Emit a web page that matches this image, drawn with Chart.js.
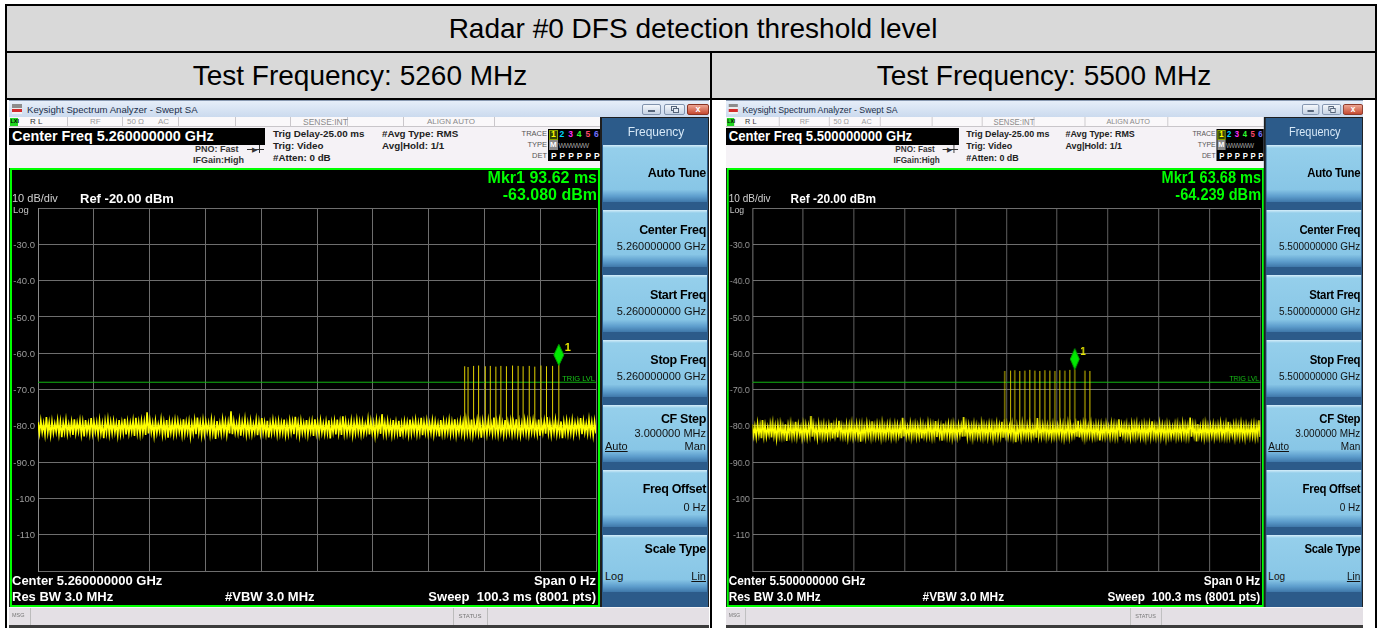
<!DOCTYPE html>
<html><head><meta charset="utf-8">
<script src="https://cdn.jsdelivr.net/npm/chart.js@4.4.1/dist/chart.umd.min.js"></script>
<style>
body{margin:0;width:1380px;height:628px;overflow:hidden;background:#fff;position:relative;font-family:"Liberation Sans",Arial,sans-serif}
.t{position:absolute;white-space:nowrap;line-height:1}
.r{position:absolute}
.scr{position:absolute;top:100px;width:700px;height:528px;background:#1c1c1c;overflow:hidden}
</style></head><body>
<div id="page"></div>
<script>
// ---------------- data ----------------
const TITLE = 'Radar #0 DFS detection threshold level';
const CELL_TITLES = ['Test Frequency: 5260 MHz', 'Test Frequency: 5500 MHz'];
const CENTER_FREQ = ['5.260000000 GHz', '5.500000000 GHz'];
const SWEEP_MS = 100.3;
const Y_TICK_VALUES = [-30, -40, -50, -60, -70, -80, -90, -100, -110];
const Y_TICK_LABELS = ['-30.0', '-40.0', '-50.0', '-60.0', '-70.0', '-80.0', '-90.0', '-100', '-110'];
const TRIG_LEVEL = [-68.0, -68.0];
const MARKER_TIME = [93.62, 63.68];
const MARKER_LEVEL = [-63.080, -64.239];
const PULSE_BASE = [-80.5, -81.0];
const PULSE_TIMES_5260 = [76.7, 77.3, 78.3, 79.2, 80.4, 81.3, 82.3, 83.2, 84.2, 85.3, 86.3, 87.2, 88.3, 89.3, 90.4, 91.4, 92.5, 93.62];
const PULSE_TOPS_5260 = [-63.6, -63.8, -63.5, -63.4, -63.6, -63.5, -63.7, -63.5, -63.6, -63.4, -63.5, -63.6, -63.5, -63.7, -63.4, -63.6, -63.5, -63.08];
const PULSE_TIMES_5500 = [49.85, 50.98, 51.83, 52.82, 53.81, 54.80, 55.79, 56.78, 57.77, 58.76, 59.75, 60.73, 61.72, 62.71, 63.68, 65.68, 66.67];
const PULSE_TOPS_5500 = [-64.9, -64.8, -64.7, -64.9, -64.8, -64.6, -64.8, -64.9, -64.7, -64.8, -64.9, -64.7, -64.8, -64.6, -64.239, -64.8, -64.9];
const NOISE_5260 = [
-79.0,-82.1,-78.6,-81.8,-79.3,-82.4,-77.6,-81.9,-79.1,-82.6,
-78.8,-82.0,-79.4,-81.7,-78.5,-82.3,-78.9,-83.1,-79.2,-81.8,
-78.4,-82.2,-79.5,-81.9,-78.9,-82.5,-78.2,-82.0,-79.2,-81.6,
-78.6,-82.4,-79.0,-82.9,-78.4,-81.8,-79.3,-82.2,-77.9,-82.0,
-78.9,-81.7,-79.1,-82.5,-78.5,-82.1,-79.4,-83.4,-78.8,-81.9,
-78.3,-82.3,-79.0,-82.0,-78.7,-81.8,-79.3,-82.6,-78.4,-82.2,
-79.1,-81.9,-78.1,-82.4,-78.9,-82.1,-79.2,-81.7,-78.6,-82.8,
-77.8,-82.0,-79.0,-82.3,-78.6,-81.9,-78.8,-82.5,-76.3,-82.1,
-78.5,-81.8,-79.2,-82.7,-78.7,-82.0,-79.5,-81.6,-78.3,-82.4,
-79.0,-82.2,-78.4,-83.3,-78.9,-81.9,-79.1,-82.3,-78.6,-82.0,
-78.7,-81.7,-79.3,-82.5,-78.2,-82.1,-79.0,-81.8,-78.8,-82.9,
-79.4,-82.0,-78.5,-82.3,-77.7,-81.9,-79.1,-82.6,-78.6,-82.2,
-78.9,-81.6,-79.2,-82.4,-78.4,-82.0,-79.0,-83.6,-78.7,-81.9,
-79.3,-82.2,-78.3,-81.8,-78.9,-82.5,-79.1,-82.1,-76.0,-82.3,
-78.8,-81.9,-79.4,-82.0,-78.5,-82.7,-79.0,-81.7,-78.2,-82.4,
-79.2,-82.1,-78.7,-82.3,-79.5,-81.8,-78.4,-82.6,-78.9,-82.0,
-77.9,-81.9,-79.1,-82.2,-78.6,-83.2,-79.3,-82.0,-78.5,-81.7,
-79.0,-82.4,-78.8,-82.1,-79.2,-81.9,-78.3,-82.5,-79.4,-82.2,
-78.6,-81.8,-78.9,-82.3,-77.5,-82.0,-79.1,-82.6,-78.7,-81.9,
-79.3,-82.1,-78.4,-82.4,-79.0,-81.7,-78.8,-82.8,-78.2,-82.0,
-79.1,-82.3,-78.6,-81.9,-79.4,-82.2,-78.9,-82.0,-78.5,-83.5,
-79.2,-81.8,-78.7,-82.4,-78.3,-82.1,-79.0,-82.5,-77.4,-82.0,
-78.8,-82.2,-79.3,-81.9,-78.6,-82.6,-79.1,-82.0,-78.4,-81.8,
-79.0,-82.3,-78.9,-82.1,-79.5,-81.7,-78.2,-82.4,-78.8,-82.0,
-79.2,-82.7,-78.5,-81.9,-78.9,-82.2,-76.8,-82.0,-79.1,-82.3,
-78.7,-81.8,-79.3,-82.5,-78.4,-82.1,-79.0,-82.0,-78.6,-83.0,
-79.4,-82.2,-78.8,-81.9,-79.1,-82.4,-78.3,-82.1,-78.9,-81.7,
-78.5,-82.3,-79.2,-82.0,-77.8,-82.6,-79.0,-81.9,-78.7,-82.2,
-79.3,-82.0,-78.6,-82.4,-78.9,-81.8,-79.4,-82.9,-78.4,-82.1,
-78.8,-82.2,-79.1,-81.9,-78.5,-82.3,-79.0,-82.0,-78.2,-82.5,
-79.2,-81.8,-78.7,-82.1,-79.0,-82.4,-78.4,-82.0,-78.9,-82.2,
-78.3,-82.6,-79.3,-81.9,-78.6,-82.1,-79.1,-83.3,-78.8,-82.0,
-79.0,-82.3,-78.5,-81.7,-79.4,-82.2,-77.7,-82.0,-78.9,-82.4,
-78.6,-81.9,-79.2,-82.5,-78.4,-82.1,-79.0,-81.8,-78.7,-82.3,
-79.1,-82.0,-78.2,-82.2,-78.9,-82.6,-79.3,-81.9,-78.5,-82.1,
-78.8,-82.4,-79.0,-81.8,-78.6,-82.0,-79.4,-82.3,-78.3,-82.7,
-79.2,-81.9,-78.7,-82.2,-77.6,-82.0,-79.1,-82.5,-78.9,-81.8,
-78.4,-82.3,-79.3,-82.1,-78.8,-83.4,-79.0,-81.9,-78.6,-82.2,
-79.1,-82.0,-78.5,-82.4,-79.2,-81.7,-78.9,-82.1,-77.9,-82.3,
-78.7,-81.9,-79.4,-82.2,-78.3,-82.0,-79.0,-82.6,-78.8,-82.1];
const NOISE_5500 = [
-79.6,-82.8,-80.1,-83.1,-79.3,-82.6,-79.9,-83.4,-78.4,-82.9,
-79.8,-83.0,-80.3,-82.5,-79.5,-83.2,-79.2,-82.8,-80.0,-83.6,
-79.7,-82.7,-79.4,-83.0,-80.2,-82.9,-79.6,-84.2,-79.9,-82.6,
-79.3,-83.1,-80.1,-82.8,-78.9,-83.0,-79.7,-82.5,-80.3,-83.3,
-79.5,-82.9,-79.8,-83.2,-80.0,-82.7,-77.3,-83.0,-79.6,-82.8,
-80.2,-83.4,-79.4,-82.6,-79.9,-83.1,-79.6,-82.9,-80.1,-83.0,
-79.7,-82.7,-79.2,-83.5,-80.0,-82.8,-79.5,-83.2,-78.6,-82.6,
-79.9,-83.0,-80.3,-82.9,-79.6,-83.3,-79.8,-82.7,-79.3,-83.1,
-80.1,-82.8,-79.5,-83.0,-79.9,-84.4,-79.7,-82.9,-80.2,-83.2,
-79.4,-82.6,-79.8,-83.1,-78.8,-82.8,-80.0,-83.0,-79.6,-82.7,
-79.9,-83.3,-79.3,-82.9,-80.1,-83.0,-79.7,-82.6,-79.5,-83.2,
-80.2,-82.8,-79.6,-83.1,-79.8,-82.7,-80.0,-83.4,-77.8,-82.9,
-79.7,-83.0,-80.3,-82.8,-79.4,-83.2,-79.9,-82.6,-79.6,-83.1,
-80.0,-82.9,-79.5,-83.5,-79.8,-82.8,-80.2,-83.0,-79.3,-82.7,
-79.6,-83.2,-79.9,-82.9,-78.7,-83.1,-79.7,-82.8,-80.1,-84.1,
-79.4,-82.7,-80.0,-83.0,-79.6,-82.9,-79.8,-83.3,-79.5,-82.8,
-80.2,-83.1,-79.7,-82.6,-79.9,-83.0,-77.6,-82.9,-79.6,-83.2,
-79.8,-82.8,-80.1,-83.4,-79.5,-82.7,-79.9,-83.0,-80.3,-82.9,
-79.3,-83.1,-79.8,-82.8,-80.0,-83.2,-79.6,-82.6,-79.7,-83.6,
-80.1,-82.9,-79.4,-83.0,-79.9,-82.8,-78.9,-83.3,-79.8,-82.7,
-79.6,-83.0,-80.2,-82.9,-79.5,-83.1,-79.7,-84.5,-80.0,-82.8,
-79.9,-83.2,-79.3,-82.7,-80.1,-83.0,-79.8,-82.9,-79.5,-83.1,
-80.3,-82.8,-79.6,-83.3,-77.9,-82.9,-80.0,-83.0,-79.7,-82.6,
-79.4,-83.1,-79.9,-82.8,-80.2,-83.2,-79.6,-82.9,-79.8,-83.0,
-80.0,-82.7,-79.5,-83.0,-79.7,-83.4,-80.1,-82.8,-79.3,-83.1,
-79.8,-82.9,-80.3,-82.6,-79.6,-83.0,-78.6,-83.2,-79.9,-82.8,
-79.5,-83.3,-79.7,-82.9,-80.0,-82.7,-79.4,-83.1,-80.2,-83.0,
-79.6,-82.8,-79.9,-84.0,-79.8,-82.9,-80.1,-83.0,-79.5,-82.7,
-80.2,-83.1,-79.4,-82.8,-79.7,-83.2,-79.9,-82.9,-78.2,-83.0,
-79.8,-82.7,-80.0,-83.1,-79.6,-82.9,-80.3,-83.3,-79.5,-82.8,
-79.7,-83.0,-79.3,-82.6,-80.1,-83.1,-79.8,-82.9,-79.6,-83.4,
-80.0,-82.8,-79.5,-83.0,-78.8,-82.7,-79.9,-83.2,-80.2,-82.9,
-79.4,-83.1,-79.8,-82.8,-80.0,-83.5,-79.6,-82.9,-79.9,-83.0,
-80.3,-82.7,-79.7,-83.1,-79.5,-82.9,-80.1,-83.0,-79.3,-82.8,
-79.8,-83.2,-80.0,-82.9,-77.7,-83.0,-79.6,-82.7,-79.9,-84.3,
-79.5,-82.8,-80.2,-83.0,-79.7,-83.3,-79.4,-82.9,-80.0,-83.1,
-79.9,-82.7,-79.6,-83.2,-80.1,-82.8,-79.8,-83.0,-79.3,-82.9,
-80.0,-83.1,-79.5,-82.9,-78.9,-83.0,-80.2,-82.6,-79.7,-83.3,
-79.6,-82.8,-79.9,-83.1,-79.4,-82.9,-80.0,-83.4,-79.8,-82.7,
-80.1,-83.0,-79.7,-82.8,-79.5,-83.2,-79.9,-82.9,-78.5,-83.1];
const NOISE = [NOISE_5260, NOISE_5500];
const PULSE_TIMES = [PULSE_TIMES_5260, PULSE_TIMES_5500];
const PULSE_TOPS = [PULSE_TOPS_5260, PULSE_TOPS_5500];

// ---------------- helpers ----------------
function T(x, cy, fs, txt, extra = '', align = 'left') {
  const top = (cy - fs * 0.49).toFixed(1);
  if (align === 'right') return `<div class="t" style="left:${x - 1000}px;width:1000px;text-align:right;top:${top}px;font-size:${fs}px;${extra}">${txt}</div>`;
  if (align === 'center') return `<div class="t" style="left:${x - 1000}px;width:2000px;text-align:center;top:${top}px;font-size:${fs}px;${extra}">${txt}</div>`;
  return `<div class="t" style="left:${x}px;top:${top}px;font-size:${fs}px;${extra}">${txt}</div>`;
}
function R(x, y, w, h, extra = '') {
  return `<div class="r" style="left:${x}px;top:${y}px;width:${w}px;height:${h}px;${extra}"></div>`;
}

function screenHTML(k) {
  const CF = CENTER_FREQ[k];
  const B = 'font-weight:bold;';
  let h = '';
  // title bar
  h += R(0, 0, 700, 17, 'background:linear-gradient(#e6eef9,#cbdaee);border-top:1px solid #8a9ab2;box-sizing:border-box');
  h += R(3, 4, 10, 10, 'background:linear-gradient(#8c8c8c 0 35%,#ececec 35% 52%,#d42c2c 52% 78%,#f2f2f2 78%)');
  h += T(18, 9.5, 9.6, 'Keysight Spectrum Analyzer - Swept SA', 'color:#1b2f4a;font-family:"Noto Sans";letter-spacing:-0.15px');
  h += R(633, 4, 19, 11, 'border:1px solid #8193ad;border-radius:2px;background:linear-gradient(#f4f7fb,#c6d3e4);box-sizing:border-box');
  h += R(639, 10, 7, 2, 'background:#56657a');
  h += R(655, 4, 21, 11, 'border:1px solid #8193ad;border-radius:2px;background:linear-gradient(#f4f7fb,#c6d3e4);box-sizing:border-box');
  h += R(662, 6, 6, 5, 'border:1px solid #56657a;box-sizing:border-box');
  h += R(664, 8, 6, 5, 'border:1px solid #56657a;box-sizing:border-box;background:#e4ebf4');
  h += R(678, 4, 22, 11, 'border:1px solid #8a3322;border-radius:2px;background:linear-gradient(#eda592,#c64a31);box-sizing:border-box');
  h += T(689, 9.5, 9, 'x', 'color:#fff;' + B, 'center');
  // status row
  h += R(0, 17, 593, 10, 'background:#faf8fa;border-bottom:1px solid #c9c6ca;box-sizing:border-box');
  [58, 113, 169, 226, 281, 338, 394, 485].forEach(x => h += R(x, 17, 1, 10, 'background:#cac7cb'));
  h += R(1, 18, 8, 8, 'background:#22d422');
  h += T(1.5, 22, 5.5, 'LXI', 'color:#000;' + B);
  h += T(21, 22, 8, 'R L', 'color:#333');
  h += T(81, 22, 8, 'RF', 'color:#9a9a9a');
  h += T(118, 22, 8, '50 Ω', 'color:#9a9a9a');
  h += T(149, 22, 8, 'AC', 'color:#9a9a9a');
  h += T(294, 22, 8.5, 'SENSE:INT', 'color:#8a8a8a');
  h += T(418, 22, 8, 'ALIGN AUTO', 'color:#8a8a8a');
  // header
  h += R(0, 27, 593, 41, 'background:#f5f2f6');
  h += R(0, 28, 256, 17, 'background:#000');
  h += T(3, 36.5, 14.4, 'Center Freq ' + CF, 'color:#fff;' + B);
  h += T(186, 49, 9, 'PNO: Fast', 'color:#333;' + B);
  h += R(238, 48.5, 17, 1, 'background:#333');
  h += T(243, 49, 7, '▶', 'color:#333');
  h += R(250, 45, 1, 8, 'background:#333');
  h += T(184, 60, 9, 'IFGain:High', 'color:#333;' + B);
  h += T(264, 34, 9.8, 'Trig Delay-25.00 ms', 'color:#222;' + B);
  h += T(264, 46, 9.8, 'Trig: Video', 'color:#222;' + B);
  h += T(264, 58, 9.8, '#Atten: 0 dB', 'color:#222;' + B);
  h += T(373, 34, 9.8, '#Avg Type: RMS', 'color:#222;' + B);
  h += T(373, 46, 9.8, 'Avg|Hold: 1/1', 'color:#222;' + B);
  h += T(538, 34, 7.5, 'TRACE', 'color:#555', 'right');
  h += T(538, 45, 7.5, 'TYPE', 'color:#555', 'right');
  h += T(538, 56, 7.5, 'DET', 'color:#555', 'right');
  h += R(539, 29, 52, 32, 'background:#000');
  h += R(540, 29.5, 9, 10, 'border:1px solid #8aa400;background:#34430a;box-sizing:border-box');
  const tc = ['#ffff00', '#00d8ff', '#ff30ff', '#30ff30', '#ff4a6a', '#7070ff'];
  for (let i = 0; i < 6; i++) {
    const x = 542 + i * 8.6;
    h += T(x, 34.5, 8.5, String(i + 1), 'color:' + tc[i] + ';' + B);
    h += T(x, 56, 8.5, 'P', 'color:#fff;' + B);
  }
  h += R(540, 40, 9, 10, 'background:#8a8a8a');
  h += T(541, 45, 8, 'M', 'color:#fff;' + B);
  h += T(549.5, 45, 7, 'WWWWW', 'color:#a0a0a0;letter-spacing:-0.6px');
  // plot box
  h += R(1, 68, 590, 439, 'border:2px solid #00ff00;box-sizing:border-box;background:#000');
  h += `<canvas id="cv${k}" width="586" height="435" style="position:absolute;left:3px;top:70px;width:586px;height:435px"></canvas>`;
  const G = 'color:#00ff00;' + B;
  h += T(588, 78, 16, 'Mkr1 ' + MARKER_TIME[k].toFixed(2) + ' ms', G, 'right');
  h += T(588, 94.5, 16, MARKER_LEVEL[k].toFixed(3) + ' dBm', G, 'right');
  h += T(3, 98, 11, '10 dB/div', 'color:#d0d0d0');
  h += T(71, 98, 13, 'Ref -20.00 dBm', 'color:#fff;' + B);
  h += T(4, 109.5, 9.5, 'Log', 'color:#c4c4c4');
  const W = 'color:#fff;' + B;
  h += T(3, 480, 13, 'Center ' + CF, W);
  h += T(3, 496, 13, 'Res BW 3.0 MHz', W);
  h += T(216, 496, 13, '#VBW 3.0 MHz', W);
  h += T(587, 480, 13, 'Span 0 Hz', W, 'right');
  h += T(587, 496, 13, 'Sweep&nbsp; 100.3 ms (8001 pts)', W, 'right');
  // msg bar
  h += R(0, 507, 700, 18, 'background:#e4e0e5;border-top:1px solid #f6f4f7;box-sizing:border-box');
  h += T(3, 516, 5.5, 'MSG', 'color:#777');
  h += R(21, 508, 1, 17, 'background:#bcbcbc');
  h += R(444, 508, 1, 17, 'background:#bcbcbc');
  h += R(478, 508, 1, 17, 'background:#bcbcbc');
  h += T(461, 516, 6, 'STATUS', 'color:#777', 'center');
  h += R(0, 525, 700, 3, 'background:#3c3c3c');
  // softkeys
  h += R(591, 17, 109, 490, 'background:#1e1e1e');
  h += R(593, 18, 106, 489, 'background:#2c5b8a');
  h += T(647, 32, 12, 'Frequency', 'color:#d6e8f7', 'center');
  const tops = [45, 110, 175, 240, 305, 370, 435];
  const BG = 'background:linear-gradient(#d5edf9 0px,#95cfeb 3px,#88c6e6 78%,#5e9ecd 90%,#3f78aa 100%)';
  tops.forEach(y => h += R(594, y, 104, 57, BG));
  const K = 'color:#000;font-weight:bold;letter-spacing:-0.3px';
  const V = 'color:#111';
  h += T(697, tops[0] + 28, 12.5, 'Auto Tune', K, 'right');
  [['Center Freq', 1], ['Start Freq', 2], ['Stop Freq', 3]].forEach(([s, i]) => {
    h += T(697, tops[i] + 20, 12.5, s, K, 'right');
    h += T(697, tops[i] + 36.5, 11, CF, V, 'right');
  });
  h += T(697, tops[4] + 14, 12.5, 'CF Step', K, 'right');
  h += T(697, tops[4] + 28, 11, '3.000000 MHz', V, 'right');
  h += T(596, tops[4] + 41.5, 11, 'Auto', V + ';text-decoration:underline');
  h += T(697, tops[4] + 41.5, 11, 'Man', V, 'right');
  h += T(697, tops[5] + 19, 12.5, 'Freq Offset', K, 'right');
  h += T(697, tops[5] + 37, 11, '0 Hz', V, 'right');
  h += T(697, tops[6] + 14, 12.5, 'Scale Type', K, 'right');
  h += T(596, tops[6] + 41, 11, 'Log', V);
  h += T(697, tops[6] + 41, 11, 'Lin', V + ';text-decoration:underline', 'right');
  return h;
}

// ---------------- page ----------------
let P = '';
P += R(7, 6, 1368, 45, 'background:#d9d9d9');
P += R(7, 53, 703, 45, 'background:#d9d9d9');
P += R(712, 53, 663, 45, 'background:#d9d9d9');
P += R(5, 4, 1372, 2, 'background:#000');
P += R(5, 4, 2, 640, 'background:#000');
P += R(1375, 4, 2, 640, 'background:#000');
P += R(5, 51, 1372, 2, 'background:#000');
P += R(5, 98, 1372, 2, 'background:#000');
P += R(710, 51, 2, 600, 'background:#000');
P += T(693, 28.5, 28, TITLE, 'color:#000', 'center');
P += T(360, 76, 28, CELL_TITLES[0], 'color:#000', 'center');
P += T(1044, 76, 28, CELL_TITLES[1], 'color:#000', 'center');
P += `<div class="scr" style="left:9px">${screenHTML(0)}</div>`;
P += `<div class="scr" style="left:726px;transform:scaleX(0.91);transform-origin:0 0">${screenHTML(1)}</div>`;
document.getElementById('page').innerHTML = P;

// ---------------- charts ----------------
Chart.defaults.font.family = '"Liberation Sans", Arial, sans-serif';
const GRID = '#6e6e6e';
const mkrPlugin = {
  id: 'mkr',
  afterDatasetsDraw(chart, args, o) {
    const { ctx, scales: { x, y }, chartArea } = chart;
    ctx.save();
    const ty = y.getPixelForValue(o.trig);
    ctx.fillStyle = '#18c818';
    ctx.font = '7.5px "Liberation Sans"';
    ctx.textAlign = 'right';
    ctx.fillText('TRIG LVL', chartArea.right - 1, ty - 1.5);
    const px = x.getPixelForValue(o.t), py = y.getPixelForValue(o.v);
    const cy = py - 9.5;
    ctx.beginPath();
    ctx.moveTo(px, cy - 10.5); ctx.lineTo(px + 5, cy); ctx.lineTo(px, cy + 10.5); ctx.lineTo(px - 5, cy); ctx.closePath();
    ctx.fillStyle = '#00e800'; ctx.fill();
    ctx.strokeStyle = '#00a000'; ctx.lineWidth = 1; ctx.stroke();
    ctx.fillStyle = '#e8e800';
    ctx.font = 'bold 11px "Liberation Sans"';
    ctx.textAlign = 'left';
    ctx.fillText('1', px + 6, cy - 4);
    ctx.restore();
  }
};

function makeChart(k) {
  const n = NOISE[k].length;
  const noisePts = NOISE[k].map((v, i) => ({ x: i * SWEEP_MS / (n - 1), y: v }));
  const pulsePts = [];
  PULSE_TIMES[k].forEach((t, i) => {
    pulsePts.push({ x: t, y: PULSE_BASE[k] }, { x: t, y: PULSE_TOPS[k][i] }, { x: t, y: null });
  });
  const trigPts = [{ x: 0, y: TRIG_LEVEL[k] }, { x: SWEEP_MS, y: TRIG_LEVEL[k] }];
  new Chart(document.getElementById('cv' + k), {
    type: 'line',
    data: {
      datasets: [
        { data: pulsePts, borderColor: '#e2d200', borderWidth: 1, pointRadius: 0, spanGaps: false, order: 1 },
        { data: noisePts, borderColor: '#ffff00', borderWidth: 1.6, pointRadius: 0, tension: 0, order: 2 },
        { data: trigPts, borderColor: '#12b412', borderWidth: 1, pointRadius: 0, order: 3 }
      ]
    },
    options: {
      responsive: false, animation: false, devicePixelRatio: 1,
      layout: { padding: { left: 0, top: 38, right: 2, bottom: 34 } },
      plugins: { legend: { display: false }, tooltip: { enabled: false },
        mkr: { t: MARKER_TIME[k], v: MARKER_LEVEL[k], trig: TRIG_LEVEL[k] } },
      scales: {
        x: {
          type: 'linear', min: 0, max: SWEEP_MS,
          afterBuildTicks(s) { const t = []; for (let d = 0; d <= 10; d++) t.push({ value: d * SWEEP_MS / 10 }); s.ticks = t; },
          ticks: { display: false }, grid: { color: GRID, drawTicks: false }, border: { color: GRID },
          afterFit(s) { s.height = 0; }
        },
        y: {
          min: -120, max: -20,
          ticks: {
            stepSize: 10, color: '#9c9c9c', font: { size: 9.5 }, padding: 3, labelOffset: 1,
            callback(v) { const i = Y_TICK_VALUES.indexOf(v); return i >= 0 ? Y_TICK_LABELS[i] : ''; }
          },
          grid: { color: GRID, drawTicks: false }, border: { color: '#8a8a8a' },
          afterFit(s) { s.width = 26; }
        }
      }
    },
    plugins: [mkrPlugin]
  });
}
makeChart(0);
makeChart(1);
</script>
</body></html>
